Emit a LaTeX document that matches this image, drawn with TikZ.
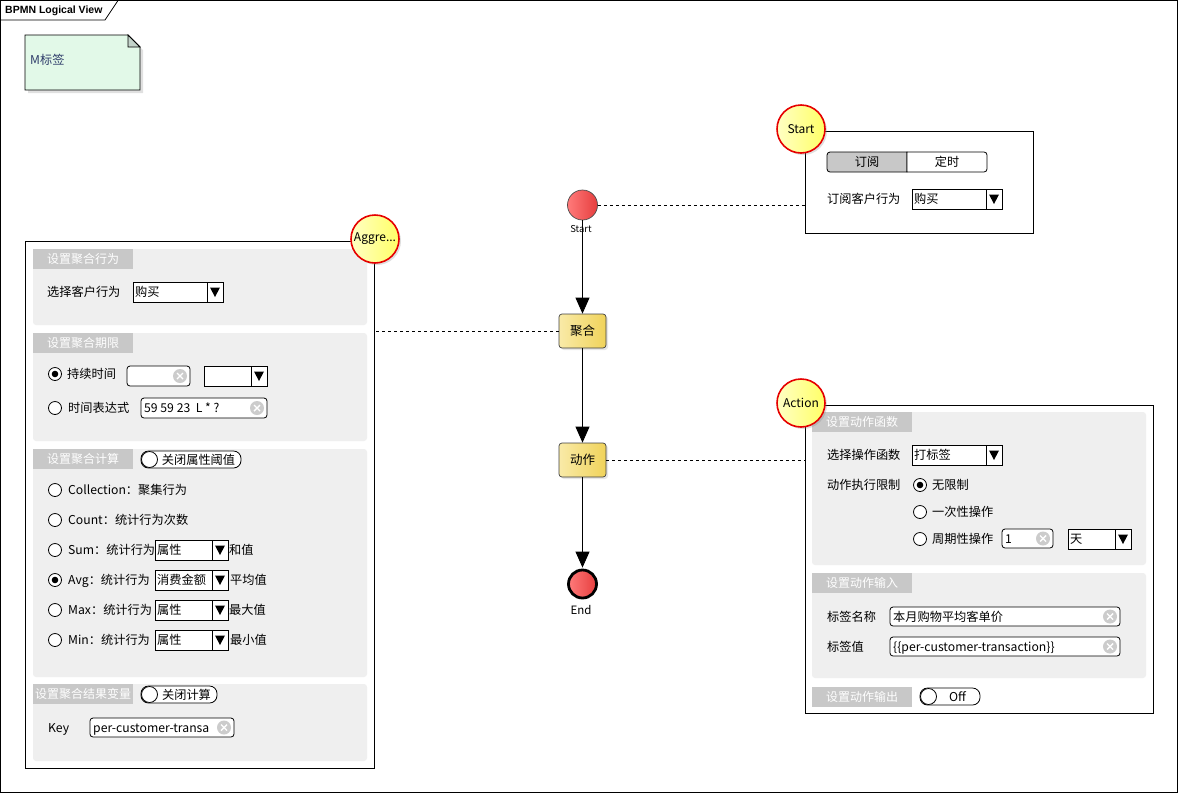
\documentclass[tikz,border=0pt]{standalone}
\usepackage{fontspec}
\setmainfont{Noto Sans CJK SC}
\newfontfamily\hdfont{Liberation Sans}
\usetikzlibrary{arrows.meta,shadows}

\definecolor{secbg}{HTML}{EFEFEF}
\definecolor{hdbg}{HTML}{C8C8C8}
\definecolor{clearc}{HTML}{CCCCCC}
\definecolor{notefill}{HTML}{E2F9E8}
\definecolor{foldfill}{HTML}{C3D3CA}
\definecolor{notetext}{HTML}{2E3C6A}
\definecolor{callA}{HTML}{FFFFC4}
\definecolor{callB}{HTML}{FFFF66}
\definecolor{calred}{HTML}{E60000}
\definecolor{taskA}{HTML}{F9EAA8}
\definecolor{taskB}{HTML}{F0D35A}
\definecolor{evA}{HTML}{FF7A7A}
\definecolor{evB}{HTML}{E63E3E}

\tikzset{
  lbl/.style={anchor=west, inner sep=0pt, text height=10pt, text depth=1pt,
    font=\fontsize{12.2}{14}\selectfont, text=black},
  headlbl/.style={anchor=north west, fill=hdbg, text=white, minimum width=100pt,
    minimum height=20pt, inner sep=0pt, font=\fontsize{12}{14}\selectfont},
  callout/.style={circle, minimum size=48pt, inner sep=0pt, draw=calred,
    line width=1.6pt, left color=callA, right color=callB,
    drop shadow={shadow xshift=2pt, shadow yshift=-2pt, opacity=0.25},
    font=\fontsize{12}{14}\selectfont},
  task/.style={rectangle, rounded corners=3pt, minimum width=47pt,
    minimum height=34pt, draw=black!75, line width=0.7pt, left color=taskA,
    right color=taskB, font=\fontsize{12.5}{14}\selectfont,
    drop shadow={shadow xshift=2pt, shadow yshift=-2pt, opacity=0.2}},
  event/.style={circle, minimum size=30pt, inner sep=0pt, left color=evA,
    right color=evB, draw=black!70, line width=0.7pt},
  flow/.style={-{Triangle[length=16pt,width=14pt]}, line width=0.9pt},
  assoc/.style={dash pattern=on 3pt off 3pt, line width=0.7pt},
  panel/.style={draw, line width=0.9pt, fill=white, anchor=north west, inner sep=0pt},
  section/.style={fill=secbg, rounded corners=3pt},
}

% dropdown: name, x1, y1, x2, y2, text
\newcommand{\uiDrop}[6]{%
  \draw[fill=white, line width=0.8pt] (#2,#3) rectangle (#4,#5);
  \draw[line width=0.8pt] ({#4-16},#3) -- ({#4-16},#5);
  \fill ({#4-13},{(#3+#5)/2-4.5}) -- ({#4-3},{(#3+#5)/2-4.5}) -- ({#4-8},{(#3+#5)/2+5}) -- cycle;
  \node[lbl] (#1) at ({#2+2},{(#3+#5)/2}) {#6};}
% text field with clear button: name, x1, y1, x2, y2, text
\newcommand{\uiField}[6]{%
  \draw[fill=white, rounded corners=3pt, line width=0.8pt] (#2,#3) rectangle (#4,#5);
  \fill[clearc] ({#4-10},{(#3+#5)/2}) circle[radius=7pt];
  \draw[white, line width=1.4pt] ({#4-13},{(#3+#5)/2-3}) -- ({#4-7},{(#3+#5)/2+3})
    ({#4-13},{(#3+#5)/2+3}) -- ({#4-7},{(#3+#5)/2-3});
  \node[lbl] (#1) at ({#2+3},{(#3+#5)/2}) {#6};}
% radio buttons: name, x, y
\newcommand{\uiRadio}[3]{%
  \draw[fill=white, line width=0.8pt] (#2,#3) circle[radius=6.5pt];
  \coordinate (#1) at (#2,#3);}
\newcommand{\uiRadioOn}[3]{%
  \uiRadio{#1}{#2}{#3}\fill (#2,#3) circle[radius=3.3pt];}
% switch: name, x1, y1, x2, y2, text
\newcommand{\uiToggle}[6]{%
  \draw[fill=white, rounded corners=7.5pt, line width=0.8pt] (#2,#3) rectangle (#4,#5);
  \draw[fill=white, line width=0.8pt] ({#2+8.5},{(#3+#5)/2}) circle[radius=8pt];
  \node[lbl, anchor=center] (#1) at ({(#2+15+#4)/2},{(#3+#5)/2}) {#6};}
% section caption: name, x, y, text
\newcommand{\uiHead}[4]{\node[headlbl] (#1) at (#2,#3) {#4};}

\begin{document}
\begin{tikzpicture}[x=1pt, y=-1pt]
\useasboundingbox (0,0) rectangle (1178,793);

% diagram frame
\draw[line width=0.8pt] (0.5,0.5) rectangle (1177.5,792.5);
\draw[line width=0.8pt] (0.5,20) -- (105,20) -- (118,0.5);
\node[anchor=west, inner sep=0pt, font=\hdfont\bfseries\fontsize{10.5}{12}\selectfont]
  (viewtitle) at (5,10.5) {BPMN Logical View};

% note
\fill[black, opacity=0.12] (28,38) -- (131,38) -- (143,50) -- (143,93) -- (28,93) -- cycle;
\draw[fill=notefill, line width=0.8pt] (25,35) -- (128,35) -- (140,47) -- (140,90) -- (25,90) -- cycle;
\draw[fill=foldfill, line width=0.8pt] (128,35) -- (128,47) -- (140,47) -- cycle;
\node[lbl, text=notetext] (notelbl) at (30,60) {M标签};

% ---------- start panel ----------
\node[panel, minimum width=228pt, minimum height=102pt] (startpanel) at (805,131) {};
\draw[fill=hdbg, line width=0.8pt] (907,152) [rounded corners=3pt] -- (827,152) -- (827,172) [sharp corners] -- (907,172) -- cycle;
\draw[fill=white, line width=0.8pt] (907,152) [rounded corners=3pt] -- (987,152) -- (987,172) [sharp corners] -- (907,172) -- cycle;
\node[lbl, anchor=center] (tabsub) at (867,162) {订阅};
\node[lbl, anchor=center] (tabtime) at (947,162) {定时};
\node[lbl] (subbeh) at (827,199) {订阅客户行为};
\uiDrop{subdrop}{912}{189}{1002}{209}{购买}
\node[callout] (startcall) at (801,129) {Start};

% ---------- aggregate panel ----------
\node[panel, minimum width=349pt, minimum height=527pt] (aggpanel) at (25,241) {};
\fill[section] (33,249) rectangle (367,325);
\uiHead{h1}{33}{249}{设置聚合行为}
\node[lbl] (selbeh) at (47,292) {选择客户行为};
\uiDrop{behdrop}{133}{282}{223}{302}{购买}

\fill[section] (33,333) rectangle (367,441);
\uiHead{h2}{33}{333}{设置聚合期限}
\uiRadioOn{rdur}{55}{374}
\node[lbl] (durlbl) at (67,374) {持续时间};
\uiField{durfield}{127}{366}{190}{386}{}
\uiDrop{durdrop}{204}{366}{267}{386}{}
\uiRadio{rexpr}{55}{408}
\node[lbl] (exprlbl) at (68,408) {时间表达式};
\uiField{exprfield}{141}{398}{267}{418}{59 59 23~~L * ?}

\fill[section] (33,449) rectangle (367,677);
\uiHead{h3}{33}{449}{设置聚合计算}
\uiToggle{thr}{141}{451}{241}{468}{关闭属性阈值}
\uiRadio{rcol}{55}{490}
\node[lbl] (collbl) at (68,490) {Collection：聚集行为};
\uiRadio{rcnt}{55}{520}
\node[lbl] (cntlbl) at (68,520) {Count：统计行为次数};
\uiRadio{rsum}{55}{550}
\node[lbl] (sumlbl) at (68,550) {Sum：统计行为};
\uiDrop{sumdrop}{155}{540}{228}{560}{属性}
\node[lbl] (sumtail) at (229,550) {和值};
\uiRadioOn{ravg}{55}{580}
\node[lbl] (avglbl) at (68,580) {Avg：统计行为};
\uiDrop{avgdrop}{155}{570}{228}{590}{消费金额}
\node[lbl] (avgtail) at (230,580) {平均值};
\uiRadio{rmax}{55}{610}
\node[lbl] (maxlbl) at (68,610) {Max：统计行为};
\uiDrop{maxdrop}{155}{600}{228}{620}{属性}
\node[lbl] (maxtail) at (229,610) {最大值};
\uiRadio{rmin}{55}{640}
\node[lbl] (minlbl) at (68,640) {Min：统计行为};
\uiDrop{mindrop}{155}{630}{228}{650}{属性}
\node[lbl] (mintail) at (230,640) {最小值};

\fill[section] (33,684) rectangle (367,761);
\uiHead{h4}{33}{684}{设置聚合结果变量}
\uiToggle{calc}{141}{686}{217}{703}{关闭计算}
\node[lbl] (keylbl) at (48,728) {Key};
\uiField{keyfield}{90}{718}{234}{737}{per-customer-transa}
\node[callout] (aggcall) at (375,239) {Aggre...};

% ---------- action panel ----------
\node[panel, minimum width=348pt, minimum height=308pt] (actpanel) at (805,405) {};
\fill[section] (812,412) rectangle (1146,565);
\uiHead{h5}{812}{412}{设置动作函数}
\node[lbl] (oplbl) at (827,455) {选择操作函数};
\uiDrop{opdrop}{912}{445}{1002}{465}{打标签}
\node[lbl] (limlbl) at (827,485) {动作执行限制};
\uiRadioOn{rnolim}{920}{485}
\node[lbl] (nolim) at (932,485) {无限制};
\uiRadio{ronce}{920}{512}
\node[lbl] (once) at (932,512) {一次性操作};
\uiRadio{rper}{920}{539}
\node[lbl] (per) at (932,539) {周期性操作};
\uiField{perfield}{1002}{529}{1053}{548}{1}
\uiDrop{perdrop}{1068}{529}{1131}{549}{天}

\fill[section] (812,573) rectangle (1146,678);
\uiHead{h6}{812}{573}{设置动作输入}
\node[lbl] (tagname) at (827,617) {标签名称};
\uiField{tagfield}{890}{607}{1120}{626}{本月购物平均客单价}
\node[lbl] (tagval) at (827,647) {标签值};
\uiField{valfield}{890}{637}{1120}{656}{\{\{per-customer-transaction\}\}}

\uiHead{h7}{812}{687}{设置动作输出}
\uiToggle{outsw}{920}{688}{980}{705}{Off}
\node[callout] (actcall) at (801,403) {Action};

% ---------- process flow ----------
\node[event] (startev) at (582.5,205) {};
\node[inner sep=0pt, font=\fontsize{9.5}{10}\selectfont] (startlbl) at (581,229.5) {Start};
\node[task] (aggtask) at (582.5,331) {聚合};
\node[task] (acttask) at (582.5,460) {动作};
\node[event, minimum size=28pt, line width=2.8pt, draw=black] (endev) at (582.5,584) {};
\node[inner sep=0pt, font=\fontsize{11.5}{12}\selectfont] (endlbl) at (581,609.5) {End};

\draw[flow] (startev.south) -- (aggtask.north);
\draw[flow] (aggtask.south) -- (acttask.north);
\draw[flow, shorten >=1pt] (acttask.south) -- (endev.north);

\draw[assoc] (startev.east) -- (startev.east -| startpanel.west);
\draw[assoc] (aggtask.west) -- (aggtask.west -| aggpanel.east);
\draw[assoc] (acttask.east) -- (acttask.east -| actpanel.west);
\end{tikzpicture}
\end{document}
